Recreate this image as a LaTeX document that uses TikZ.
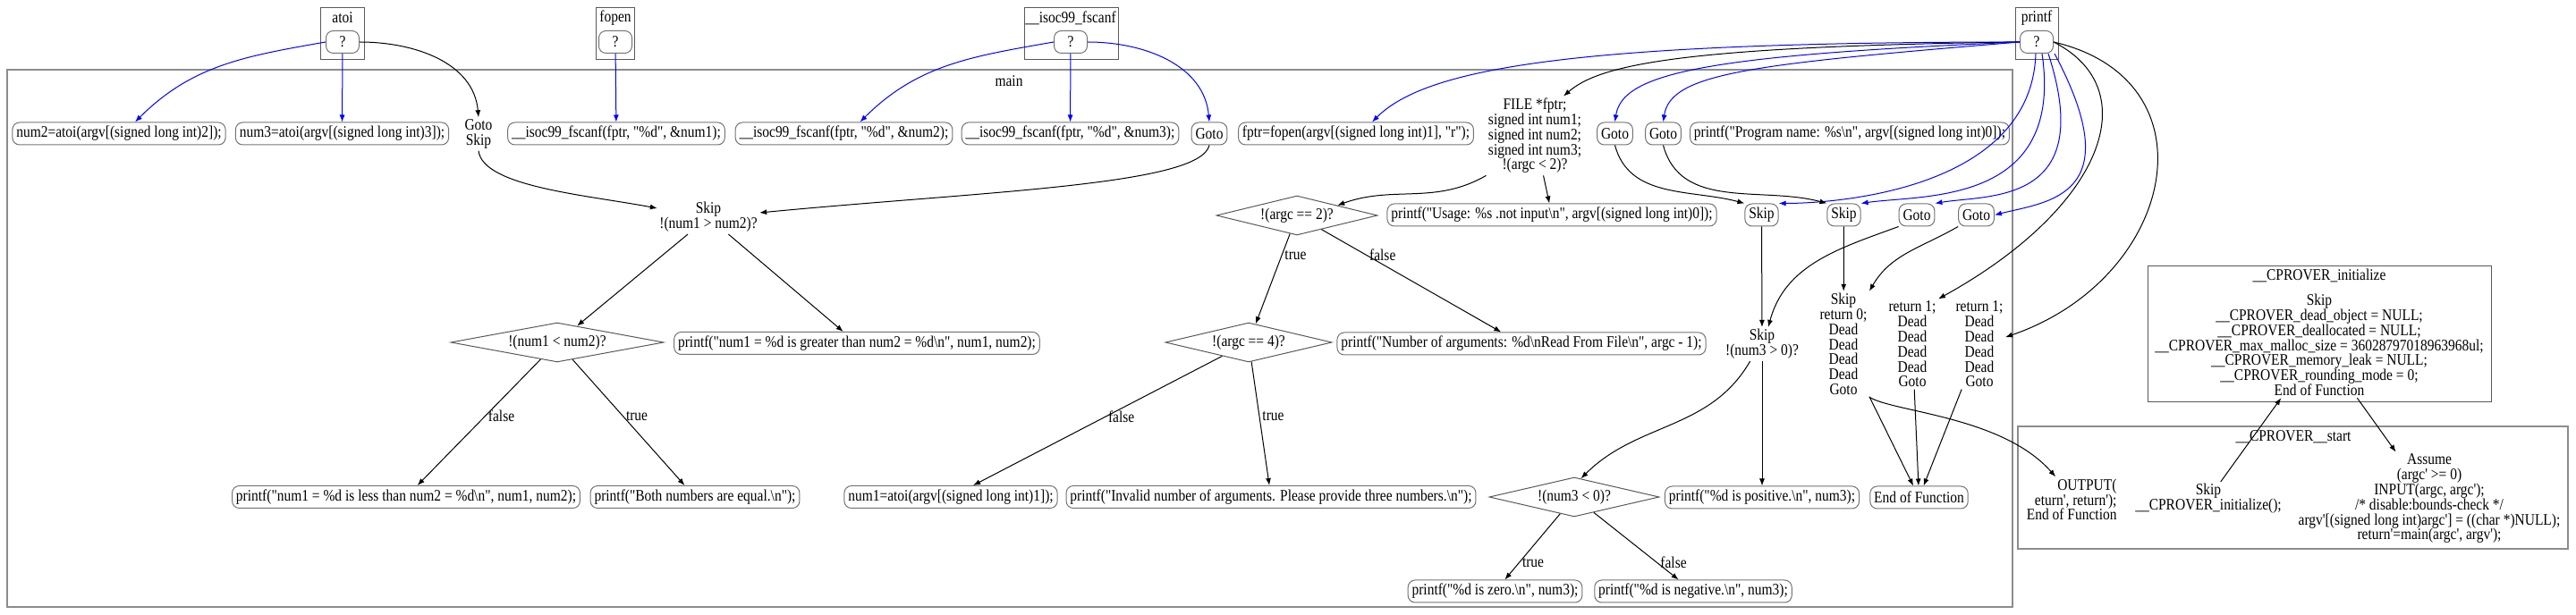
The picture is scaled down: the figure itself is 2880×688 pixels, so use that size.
\documentclass[tikz,border=0pt]{standalone}
\usepackage{fontspec}
\setmainfont{Liberation Serif}[FakeStretch=0.86, Ligatures=TeXOff]
\usetikzlibrary{arrows.meta, calc, shapes.geometric}
\newcommand\bsl{\textbackslash}
\newcommand\cfont{\fontsize{9}{8.4}\selectfont\lineskiplimit=-8pt\relax}

\begin{document}
\begin{tikzpicture}[x=0.5pt, y=0.5pt, line width=0.5pt, font=\cfont,
    stmt/.style={draw=black!55, rounded corners=4pt, inner xsep=2.2pt, inner ysep=0pt, minimum height=12.5pt},
    qbox/.style={stmt, minimum width=18.5pt},
    cond/.style={draw=black!65, diamond, aspect=4, inner sep=0pt, minimum height=22pt},
    txt/.style={align=center, inner sep=1pt},
    clus/.style={draw=black!65, line width=0.45pt},
    flow/.style={-{Latex[length=4pt, width=3pt]}},
    call/.style={flow, blue},
    lbl/.style={right, inner sep=1.5pt}]
    \useasboundingbox (0,0) rectangle (2880,-688);

    \draw[clus] (358,-8) rectangle (407,-66);
    \draw[clus] (666,-8) rectangle (709,-66);
    \draw[clus] (1145,-8) rectangle (1250,-66);
    \draw[clus] (2253,-8) rectangle (2301,-66);
    \draw[clus, draw=black!45, line width=1pt] (8,-78) rectangle (2250,-679);
    \draw[clus] (2401,-297) rectangle (2785,-449);
    \draw[clus, draw=black!45, line width=1pt] (2256,-477) rectangle (2871,-614);

    \node (latoi) at (383,-20) {atoi};
    \node (lfopen) at (688,-20) {fopen};
    \node (lfscanf) at (1197,-20) {\_\_isoc99\_fscanf};
    \node (lprintf) at (2277,-20) {printf};
    \node (lmain) at (1128,-91) {main};
    \node (linit) at (2593,-308) {\_\_CPROVER\_initialize};
    \node (lstart) at (2564,-489) {\_\_CPROVER\_\_start};

    \node[qbox] (atoiq) at (383,-47) {?};
    \node[qbox] (fopq) at (688,-47) {?};
    \node[qbox] (fsq) at (1197,-47) {?};
    \node[qbox] (prq) at (2277,-47) {?};

    \node[stmt] (n2) at (133,-149.5) {num2=atoi(argv[(signed long int)2]);};
    \node[stmt] (n3) at (382.5,-149.5) {num3=atoi(argv[(signed long int)3]);};
    \node[txt] (gskip) at (535,-150) {Goto\\Skip};
    \node[stmt] (fs1) at (689,-149.5) {\_\_isoc99\_fscanf(fptr, "\%d", \&num1);};
    \node[stmt] (fs2) at (943.5,-149.5) {\_\_isoc99\_fscanf(fptr, "\%d", \&num2);};
    \node[stmt] (fs3) at (1196.5,-149.5) {\_\_isoc99\_fscanf(fptr, "\%d", \&num3);};
    \node[stmt] (g1) at (1352,-149.5) {Goto};
    \node[stmt] (fop) at (1516,-149.5) {fptr=fopen(argv[(signed long int)1], "r");};
    \node[txt] (decl) at (1716,-152) {FILE *fptr;\\signed int num1;\\signed int num2;\\signed int num3;\\!(argc < 2)?};
    \node[stmt] (g2) at (1805.5,-149.5) {Goto};
    \node[stmt] (g3) at (1859.5,-149.5) {Goto};
    \node[stmt] (pname) at (2068,-149.5) {printf("Program name: \%s\bsl n", argv[(signed long int)0]);};

    \node[txt] (skipa) at (792,-243) {Skip\\!(num1 > num2)?};
    \node[cond, minimum width=90pt] (d2) at (1450,-241) {!(argc == 2)?};
    \node[stmt] (usage) at (1735,-240.5) {printf("Usage: \%s .not input\bsl n", argv[(signed long int)0]);};
    \node[stmt] (s1) at (1969.5,-240.5) {Skip};
    \node[stmt] (s2) at (2061.5,-240.5) {Skip};
    \node[stmt] (g4) at (2143,-240.5) {Goto};
    \node[stmt] (g5) at (2209.5,-240.5) {Goto};

    \node[cond, minimum width=119pt] (d12) at (623,-383) {!(num1 < num2)?};
    \node[stmt] (gt) at (958,-384) {printf("num1 = \%d is greater than num2 = \%d\bsl n", num1, num2);};
    \node[cond, minimum width=93pt] (d4) at (1396,-383) {!(argc == 4)?};
    \node[stmt] (nargs) at (1701,-384.5) {printf("Number of arguments: \%d\bsl nRead From File\bsl n", argc - 1);};
    \node[txt] (skipb) at (1970,-385) {Skip\\!(num3 > 0)?};
    \node[txt] (ret0) at (2061,-385) {Skip\\return 0;\\Dead\\Dead\\Dead\\Dead\\Goto};
    \node[txt] (ret1a) at (2138,-385) {return 1;\\Dead\\Dead\\Dead\\Dead\\Goto};
    \node[txt] (ret1b) at (2213,-385) {return 1;\\Dead\\Dead\\Dead\\Dead\\Goto};

    \node[stmt] (lt) at (454,-556) {printf("num1 = \%d is less than num2 = \%d\bsl n", num1, num2);};
    \node[stmt] (eq) at (777,-556) {printf("Both numbers are equal.\bsl n");};
    \node[stmt] (n1) at (1063,-556) {num1=atoi(argv[(signed long int)1]);};
    \node[stmt] (inv) at (1421,-556) {printf("Invalid number of arguments. Please provide three numbers.\bsl n");};
    \node[cond, minimum width=95pt] (d3) at (1760,-556) {!(num3 < 0)?};
    \node[stmt] (pos) at (1970,-556.5) {printf("\%d is positive.\bsl n", num3);};
    \node[stmt] (eof) at (2145.5,-556.5) {End of Function};

    \node[stmt] (zero) at (1671.5,-661.5) {printf("\%d is zero.\bsl n", num3);};
    \node[stmt] (neg) at (1893,-661.5) {printf("\%d is negative.\bsl n", num3);};

    \node[txt] (init) at (2593,-386) {Skip\\\_\_CPROVER\_dead\_object = NULL;\\\_\_CPROVER\_deallocated = NULL;\\\_\_CPROVER\_max\_malloc\_size = 36028797018963968ul;\\\_\_CPROVER\_memory\_leak = NULL;\\\_\_CPROVER\_rounding\_mode = 0;\\End of Function};
    \node[txt, align=right, anchor=east] (outp) at (2369,-559) {OUTPUT(\\eturn', return');\\End of Function};
    \node[txt] (skipi) at (2469,-558) {Skip\\\_\_CPROVER\_initialize();};
    \node[txt] (assume) at (2716,-558) {Assume\\(argc' >= 0)\\INPUT(argc, argc');\\/* disable:bounds-check */\\argv'[(signed long int)argc'] = ((char *)NULL);\\return'=main(argc', argv');};

    \draw[call] (atoiq.west) to[out=190, in=45] ($(n2.north)+(18,0)$);
    \draw[call] (atoiq) -- (n3);
    \draw[flow] (atoiq.east) to[out=0, in=95] (gskip.north);
    \draw[call] (fopq) -- (fs1);
    \draw[call] (fsq.west) to[out=190, in=45] ($(fs2.north)+(18,0)$);
    \draw[call] (fsq) -- (fs3);
    \draw[call] (fsq.east) to[out=0, in=95] (g1.north);

    \draw[call] (prq.west) .. controls +(-500,0) and +(60,60) .. ($(fop.north)+(18,0)$);
    \draw[flow] (prq.west) .. controls +(-380,-5) and +(40,35) .. ($(decl.north)+(32,0)$);
    \draw[call] (prq.west) .. controls +(-350,-15) and +(8,55) .. (g2.north);
    \draw[call] (prq.west) .. controls +(-300,-25) and +(8,55) .. (g3.north);
    \draw[call] ($(prq.south)+(-1,0)$) .. controls +(-5,-150) and +(70,0) .. (s1.north east);
    \draw[call] ($(prq.south)+(6,0)$) .. controls +(25,-170) and +(70,10) .. (s2.north east);
    \draw[call] ($(prq.south)+(13,0)$) .. controls +(55,-170) and +(60,10) .. (g4.north east);
    \draw[call] ($(prq.south)+(20,0)$) .. controls +(85,-160) and +(60,15) .. (g5.east);
    \draw[flow] (prq.east) .. controls +(104,-53) and +(186,103) .. (ret1a.north east);
    \draw[flow] (prq.east) .. controls +(184,-43) and +(190,65) .. (ret1b.15);

    \draw[flow] (gskip.south) .. controls +(5,-40) and +(-80,15) .. ($(skipa.west)+(0,10)$);
    \draw[flow] (g1.south) .. controls +(-10,-45) and +(250,24) .. ($(skipa.east)+(0,5)$);
    \draw[flow] (skipa) -- (d12);
    \draw[flow] (skipa) -- (gt);
    \draw[flow] (d12) -- node[lbl, pos=0.45] {false} (lt);
    \draw[flow] (d12) -- node[lbl, pos=0.45] {true} (eq);

    \draw[flow] (decl.south west) to[out=-150, in=20] (d2.north east);
    \draw[flow] (decl) -- (usage);
    \draw[flow] (d2) -- node[lbl, pos=0.24] {true} (d4);
    \draw[flow] (d2) -- node[lbl, pos=0.25] {false} (nargs);
    \draw[flow] (d4) -- node[lbl, pos=0.47] {false} (n1);
    \draw[flow] (d4) -- node[lbl, pos=0.44] {true} (inv);

    \draw[flow] (g2.south) to[out=-75, in=165] (s1.north west);
    \draw[flow] (g3.south) to[out=-75, in=165] (s2.north west);
    \draw[flow] (s1) -- (skipb);
    \draw[flow] (s2) -- (ret0);
    \draw[flow] (g4.south west) to[out=-160, in=75] (skipb.70);
    \draw[flow] (g5.south west) to[out=-150, in=60] (ret0.north east);
    \draw[flow] (skipb.235) to[out=-120, in=45] (d3.70);
    \draw[flow] (skipb) -- (pos);
    \draw[flow] (d3) -- node[lbl, pos=0.74] {true} (zero);
    \draw[flow] (d3) -- node[lbl, pos=0.75] {false} (neg);

    \draw[flow] (ret0) -- (eof);
    \draw[flow] (ret1a) -- (eof);
    \draw[flow] (ret1b) -- (eof);
    \draw[flow] (ret0.south east) .. controls +(27,-17) and +(-60,68) .. ($(outp.north)+(-18,0)$);
    \draw[flow] (skipi) -- (init);
    \draw[flow] (init) -- (assume);
\end{tikzpicture}
\end{document}
